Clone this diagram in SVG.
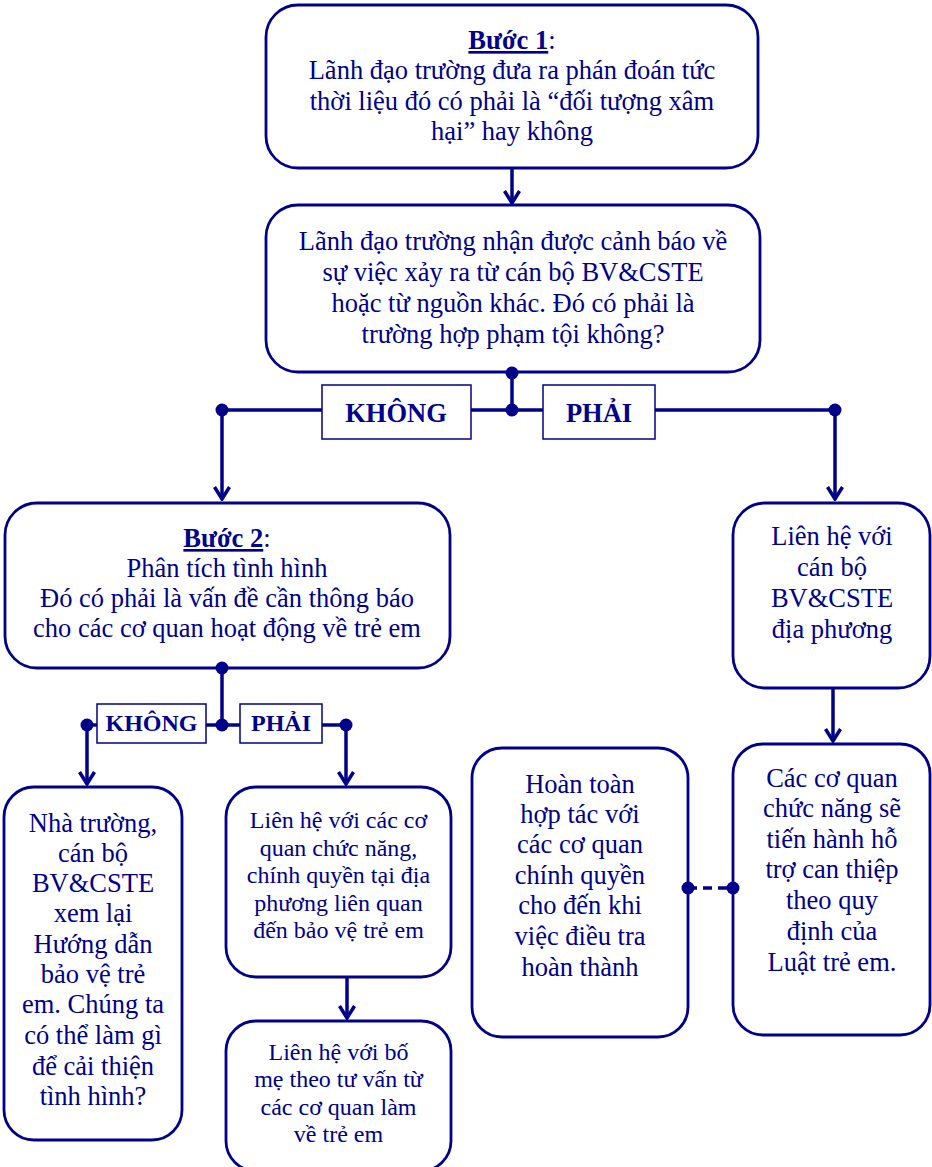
<svg xmlns="http://www.w3.org/2000/svg" width="932" height="1167" viewBox="0 0 932 1167">
<style>
  .box { fill: #ffffff; stroke: #00008B; stroke-width: 2.8; }
  .lbl { fill: #ffffff; stroke: #00008B; stroke-width: 1.5; }
  .t { font-family: "Liberation Serif", "Times New Roman", serif; font-size: 26.5px; fill: #00008B; text-anchor: middle; }
  .ts { font-family: "Liberation Serif", "Times New Roman", serif; font-size: 24px; fill: #00008B; text-anchor: middle; }
  .tb { font-family: "Liberation Serif", "Times New Roman", serif; font-size: 26.5px; font-weight: bold; fill: #00008B; text-anchor: middle; }
  .tbs { font-family: "Liberation Serif", "Times New Roman", serif; font-size: 24px; font-weight: bold; fill: #00008B; text-anchor: middle; }
  .u { font-weight: bold; text-decoration: underline; }
  .ln { stroke: #00008B; stroke-width: 3.5; fill: none; }
  .dash { stroke: #00008B; stroke-width: 3.5; fill: none; stroke-dasharray: 9 6; }
  .dot { fill: #00008B; }
</style>
<defs>
  <marker id="arr" viewBox="-15 -10 17 20" refX="0" refY="0" markerWidth="17" markerHeight="20" markerUnits="userSpaceOnUse" orient="auto">
    <path d="M-12,-7.5 L0,0 L-12,7.5" fill="none" stroke="#00008B" stroke-width="3.5"/>
  </marker>
</defs>

<g id="step1">
  <rect class="box" x="266" y="5" width="492" height="163" rx="32"/>
  <text class="t" x="512" y="49"><tspan class="u">Bước 1</tspan>:</text>
  <text class="t" x="512" y="79">Lãnh đạo trường đưa ra phán đoán tức</text>
  <text class="t" x="512" y="110">thời liệu đó có phải là “đối tượng xâm</text>
  <text class="t" x="512" y="140">hại” hay không</text>
</g>

<g id="warning">
  <rect class="box" x="266" y="205" width="494" height="167" rx="32"/>
  <text class="t" x="513" y="250">Lãnh đạo trường nhận được cảnh báo về</text>
  <text class="t" x="513" y="281">sự việc xảy ra từ cán bộ BV&amp;CSTE</text>
  <text class="t" x="513" y="312">hoặc từ nguồn khác. Đó có phải là</text>
  <text class="t" x="513" y="343">trường hợp phạm tội không?</text>
</g>

<g id="step2">
  <rect class="box" x="5" y="503" width="445" height="165" rx="32"/>
  <text class="t" x="227" y="547"><tspan class="u">Bước 2</tspan>:</text>
  <text class="t" x="227" y="577">Phân tích tình hình</text>
  <text class="t" x="227" y="607">Đó có phải là vấn đề cần thông báo</text>
  <text class="t" x="227" y="637">cho các cơ quan hoạt động về trẻ em</text>
</g>

<g id="local-officer">
  <rect class="box" x="733" y="503" width="197" height="185" rx="32"/>
  <text class="t" x="832" y="545">Liên hệ với</text>
  <text class="t" x="832" y="576">cán bộ</text>
  <text class="t" x="832" y="607">BV&amp;CSTE</text>
  <text class="t" x="832" y="638">địa phương</text>
</g>

<g id="school-review">
  <rect class="box" x="4" y="787" width="178" height="353" rx="30"/>
  <text class="t" x="93" y="832">Nhà trường,</text>
  <text class="t" x="93" y="862">cán bộ</text>
  <text class="t" x="93" y="892">BV&amp;CSTE</text>
  <text class="t" x="93" y="922">xem lại</text>
  <text class="t" x="93" y="953">Hướng dẫn</text>
  <text class="t" x="93" y="983">bảo vệ trẻ</text>
  <text class="t" x="93" y="1013">em. Chúng ta</text>
  <text class="t" x="93" y="1044">có thể làm gì</text>
  <text class="t" x="93" y="1075">để cải thiện</text>
  <text class="t" x="93" y="1105">tình hình?</text>
</g>

<g id="contact-authorities">
  <rect class="box" x="226" y="787" width="225" height="190" rx="30"/>
  <text class="ts" x="338.5" y="828">Liên hệ với các cơ</text>
  <text class="ts" x="338.5" y="856">quan chức năng,</text>
  <text class="ts" x="338.5" y="883">chính quyền tại địa</text>
  <text class="ts" x="338.5" y="911">phương liên quan</text>
  <text class="ts" x="338.5" y="938">đến bảo vệ trẻ em</text>
</g>

<g id="contact-parents">
  <rect class="box" x="226" y="1021" width="225" height="150" rx="30"/>
  <text class="ts" x="338.5" y="1060">Liên hệ với bố</text>
  <text class="ts" x="338.5" y="1087">mẹ theo tư vấn từ</text>
  <text class="ts" x="338.5" y="1115">các cơ quan làm</text>
  <text class="ts" x="338.5" y="1142">về trẻ em</text>
</g>

<g id="cooperate">
  <rect class="box" x="472" y="748" width="216" height="289" rx="30"/>
  <text class="t" x="580" y="793">Hoàn toàn</text>
  <text class="t" x="580" y="823">hợp tác với</text>
  <text class="t" x="580" y="853">các cơ quan</text>
  <text class="t" x="580" y="884">chính quyền</text>
  <text class="t" x="580" y="914">cho đến khi</text>
  <text class="t" x="580" y="945">việc điều tra</text>
  <text class="t" x="580" y="976">hoàn thành</text>
</g>

<g id="agencies">
  <rect class="box" x="733" y="744" width="197" height="291" rx="30"/>
  <text class="t" x="832" y="787">Các cơ quan</text>
  <text class="t" x="832" y="817">chức năng sẽ</text>
  <text class="t" x="832" y="848">tiến hành hỗ</text>
  <text class="t" x="832" y="878">trợ can thiệp</text>
  <text class="t" x="832" y="909">theo quy</text>
  <text class="t" x="832" y="940">định của</text>
  <text class="t" x="832" y="971">Luật trẻ em.</text>
</g>

<g id="connectors">
  <line class="ln" x1="512" y1="168" x2="512" y2="203" marker-end="url(#arr)"/>
  <line class="ln" x1="512" y1="373" x2="512" y2="410"/>
  <line class="ln" x1="222" y1="410" x2="835" y2="410"/>
  <line class="ln" x1="222" y1="410" x2="222" y2="499" marker-end="url(#arr)"/>
  <line class="ln" x1="835" y1="410" x2="835" y2="499" marker-end="url(#arr)"/>
  <circle class="dot" cx="512" cy="373" r="6.5"/>
  <circle class="dot" cx="512" cy="410" r="6.5"/>
  <circle class="dot" cx="222" cy="410" r="6.5"/>
  <circle class="dot" cx="835" cy="410" r="6.5"/>

  <line class="ln" x1="222" y1="668" x2="222" y2="725"/>
  <line class="ln" x1="87" y1="725" x2="346" y2="725"/>
  <line class="ln" x1="87" y1="725" x2="87" y2="784" marker-end="url(#arr)"/>
  <line class="ln" x1="346" y1="725" x2="346" y2="784" marker-end="url(#arr)"/>
  <circle class="dot" cx="222" cy="668" r="6.5"/>
  <circle class="dot" cx="222" cy="725" r="6.5"/>
  <circle class="dot" cx="87" cy="725" r="6.5"/>
  <circle class="dot" cx="346" cy="725" r="6.5"/>

  <line class="ln" x1="347" y1="977" x2="347" y2="1018" marker-end="url(#arr)"/>
  <line class="ln" x1="833" y1="688" x2="833" y2="741" marker-end="url(#arr)"/>

  <line class="dash" x1="688" y1="888" x2="733" y2="888"/>
  <circle class="dot" cx="688" cy="888" r="6.5"/>
  <circle class="dot" cx="733" cy="888" r="6.5"/>
</g>

<g id="label-khong-1">
  <rect class="lbl" x="322" y="385" width="149" height="54"/>
  <text class="tb" x="396" y="422">KHÔNG</text>
</g>
<g id="label-phai-1">
  <rect class="lbl" x="543" y="385" width="112" height="54"/>
  <text class="tb" x="599" y="422">PHẢI</text>
</g>
<g id="label-khong-2">
  <rect class="lbl" x="97" y="704" width="109" height="39"/>
  <text class="tbs" x="151.5" y="731">KHÔNG</text>
</g>
<g id="label-phai-2">
  <rect class="lbl" x="240" y="704" width="82" height="39"/>
  <text class="tbs" x="281" y="731">PHẢI</text>
</g>
</svg>
